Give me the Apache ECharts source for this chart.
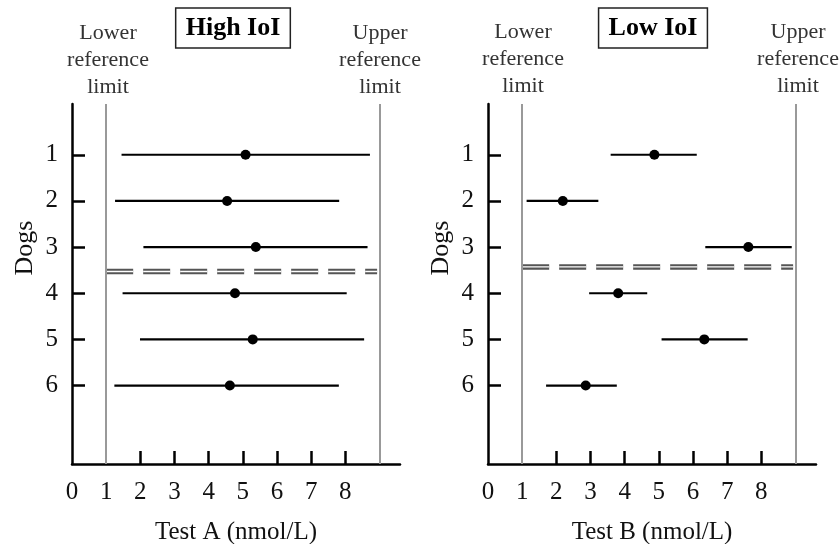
<!DOCTYPE html>
<html>
<head>
    <meta charset="UTF-8">
    <title>IoI</title>
    <style>
        html, body { margin: 0; padding: 0; background: #fff; }
        #main { width: 840px; height: 544px; }
    </style>
    <script src="https://cdn.jsdelivr.net/npm/echarts@6/dist/echarts.min.js"></script>
</head>
<body>
<div id="main"></div>
<script type="text/javascript">
    // dogs on the y axis
    var dogs = [1, 2, 3, 4, 5, 6];
    // Test A (High IoI): point value and interval low / high
    var testAPoint = [5.08, 4.54, 5.38, 4.77, 5.29, 4.62];
    var testALow = [1.45, 1.26, 2.09, 1.48, 1.99, 1.24];
    var testAHigh = [8.72, 7.82, 8.65, 8.04, 8.55, 7.81];
    // Test B (Low IoI)
    var testBPoint = [4.87, 2.19, 7.62, 3.81, 6.33, 2.86];
    var testBLow = [3.59, 1.13, 6.36, 2.96, 5.08, 1.70];
    var testBHigh = [6.11, 3.23, 8.89, 4.66, 7.60, 3.77];
    // reference limits and the dashed cut line
    var refLimits = [1, 9];
    var cutA = 3.53;
    var cutB = 3.43;
    var cutRange = [1, 8.93];
    var xTicks = [2, 3, 4, 5, 6, 7, 8];
    var xLabels = [0, 1, 2, 3, 4, 5, 6, 7, 8];

    var font = 'Liberation Serif';

    function barData(low, high) {
        return dogs.map(function (d, i) { return [d, low[i], high[i]]; });
    }
    function pointData(pt) {
        return dogs.map(function (d, i) { return [pt[i], d]; });
    }
    function cutData(y) {
        return [[cutRange[0], y], [cutRange[1], y]];
    }

    function renderBar(params, api) {
        var y = api.value(0);
        var p1 = api.coord([api.value(1), y]);
        var p2 = api.coord([api.value(2), y]);
        return {
            type: 'line',
            shape: {x1: p1[0], y1: p1[1], x2: p2[0], y2: p2[1]},
            style: {stroke: '#000', lineWidth: 2.2}
        };
    }

    function xAxisOf(idx, name) {
        return {
            gridIndex: idx,
            type: 'value',
            position: 'bottom',
            min: 0,
            max: 9.6,
            name: name,
            nameLocation: 'middle',
            nameGap: 56,
            nameTextStyle: {fontFamily: font, fontSize: 25, color: '#111'},
            axisLine: {onZero: false, lineStyle: {color: '#000', width: 2.5}},
            axisTick: {show: true, inside: true, length: 13, customValues: xTicks,
                lineStyle: {color: '#000', width: 2.5}},
            axisLabel: {customValues: xLabels, margin: 16, fontFamily: font, fontSize: 25, color: '#111'},
            splitLine: {show: false}
        };
    }

    function yAxisOf(idx) {
        return {
            gridIndex: idx,
            type: 'value',
            inverse: true,
            min: -0.1,
            max: 7.7,
            name: 'Dogs',
            nameLocation: 'middle',
            nameGap: 34,
            nameTextStyle: {fontFamily: font, fontSize: 26, color: '#111', padding: [0, 0, 0, 72]},
            axisLine: {show: true, onZero: false, lineStyle: {color: '#000', width: 2.5}},
            axisTick: {show: true, inside: true, length: 13, customValues: dogs,
                lineStyle: {color: '#000', width: 2.5}},
            axisLabel: {customValues: dogs, margin: 14, fontFamily: font, fontSize: 25, color: '#111'},
            splitLine: {show: false}
        };
    }

    function panelSeries(idx, low, high, pt, cut) {
        return [{
            type: 'custom',
            xAxisIndex: idx, yAxisIndex: idx,
            renderItem: renderBar,
            encode: {x: [1, 2], y: 0},
            data: barData(low, high),
            z: 3
        }, {
            type: 'scatter',
            xAxisIndex: idx, yAxisIndex: idx,
            symbolSize: 10,
            itemStyle: {color: '#000', opacity: 1},
            data: pointData(pt),
            z: 4,
            markLine: {
                silent: true,
                symbol: 'none',
                label: {show: false},
                lineStyle: {color: '#999', type: 'solid', width: 2},
                data: refLimits.map(function (v) { return {xAxis: v}; })
            }
        }, {
            type: 'line',
            xAxisIndex: idx, yAxisIndex: idx,
            showSymbol: false,
            data: cutData(cut),
            lineStyle: {color: '#555', width: 5.5, type: [27, 10]},
            z: 2
        }, {
            type: 'line',
            xAxisIndex: idx, yAxisIndex: idx,
            showSymbol: false,
            data: cutData(cut),
            lineStyle: {color: '#fff', width: 1.4, type: [27, 10]},
            z: 2
        }];
    }

    function refText(x, y, txt) {
        return {
            type: 'text', x: x, y: y,
            style: {text: txt, font: '22px "' + font + '"', fill: '#333',
                align: 'center', verticalAlign: 'middle', lineHeight: 27}
        };
    }

    function boxTitle(x, y, txt) {
        return {
            type: 'text', x: x, y: y,
            style: {text: txt, font: 'bold 26px "' + font + '"', fill: '#000',
                align: 'center', verticalAlign: 'middle',
                padding: [7, 10, 7, 10], borderColor: '#222', borderWidth: 1.5}
        };
    }

    var myChart = echarts.init(document.getElementById('main'));
    var option = {
        animation: false,
        backgroundColor: '#fff',
        graphic: [
            boxTitle(233, 28, 'High IoI'),
            boxTitle(653, 28, 'Low IoI'),
            refText(108, 60, 'Lower\nreference\nlimit'),
            refText(380, 60, 'Upper\nreference\nlimit'),
            refText(523, 59, 'Lower\nreference\nlimit'),
            refText(798, 59, 'Upper\nreference\nlimit')
        ],
        grid: [
            {left: 72, top: 104, width: 328, height: 360, containLabel: false, outerBoundsMode: 'none'},
            {left: 488, top: 104, width: 328, height: 360, containLabel: false, outerBoundsMode: 'none'}
        ],
        xAxis: [xAxisOf(0, 'Test A (nmol/L)'), xAxisOf(1, 'Test B (nmol/L)')],
        yAxis: [yAxisOf(0), yAxisOf(1)],
        series: panelSeries(0, testALow, testAHigh, testAPoint, cutA)
            .concat(panelSeries(1, testBLow, testBHigh, testBPoint, cutB))
    };
    myChart.setOption(option);
</script>
</body>
</html>
